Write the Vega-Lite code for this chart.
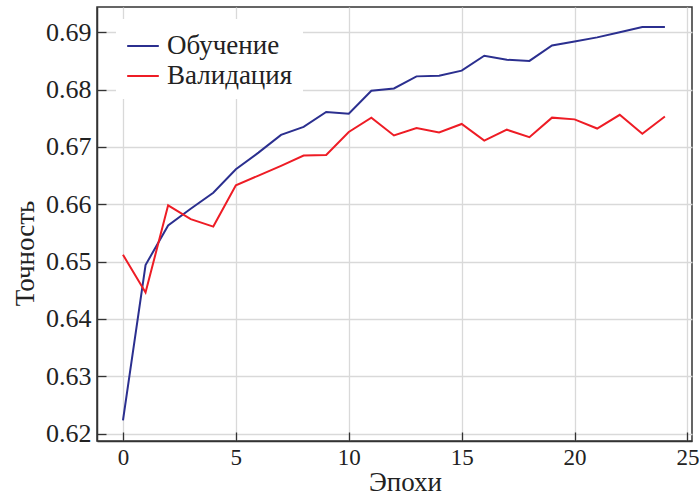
{
  "$schema": "https://vega.github.io/schema/vega-lite/v6.json",
  "width": 595,
  "height": 434,
  "autosize": {"type": "none"},
  "padding": {"left": 97, "top": 7, "right": 7, "bottom": 56},
  "background": "white",
  "config": {
    "font": "Liberation Serif",
    "view": {"stroke": "#333333", "strokeWidth": 1.5},
    "axis": {
      "labelFont": "Liberation Serif",
      "titleFont": "Liberation Serif",
      "titleFontSize": 27,
      "labelColor": "#222222",
      "titleColor": "#222222",
      "titleFontWeight": "normal",
      "gridColor": "#d9d9d9",
      "gridWidth": 1.3,
      "domainColor": "#333333",
      "domainWidth": 1.5,
      "tickColor": "#333333",
      "tickWidth": 1.3
    }
  },
  "data": {
    "values": [
      {"epoch": 0, "acc": 0.6223, "set": "Обучение"},
      {"epoch": 1, "acc": 0.6494, "set": "Обучение"},
      {"epoch": 2, "acc": 0.6563, "set": "Обучение"},
      {"epoch": 3, "acc": 0.6592, "set": "Обучение"},
      {"epoch": 4, "acc": 0.6620, "set": "Обучение"},
      {"epoch": 5, "acc": 0.6661, "set": "Обучение"},
      {"epoch": 6, "acc": 0.6690, "set": "Обучение"},
      {"epoch": 7, "acc": 0.6721, "set": "Обучение"},
      {"epoch": 8, "acc": 0.6735, "set": "Обучение"},
      {"epoch": 9, "acc": 0.6761, "set": "Обучение"},
      {"epoch": 10, "acc": 0.6758, "set": "Обучение"},
      {"epoch": 11, "acc": 0.6798, "set": "Обучение"},
      {"epoch": 12, "acc": 0.6802, "set": "Обучение"},
      {"epoch": 13, "acc": 0.6823, "set": "Обучение"},
      {"epoch": 14, "acc": 0.6824, "set": "Обучение"},
      {"epoch": 15, "acc": 0.6833, "set": "Обучение"},
      {"epoch": 16, "acc": 0.6859, "set": "Обучение"},
      {"epoch": 17, "acc": 0.6852, "set": "Обучение"},
      {"epoch": 18, "acc": 0.6850, "set": "Обучение"},
      {"epoch": 19, "acc": 0.6877, "set": "Обучение"},
      {"epoch": 20, "acc": 0.6884, "set": "Обучение"},
      {"epoch": 21, "acc": 0.6891, "set": "Обучение"},
      {"epoch": 22, "acc": 0.6900, "set": "Обучение"},
      {"epoch": 23, "acc": 0.6909, "set": "Обучение"},
      {"epoch": 24, "acc": 0.6909, "set": "Обучение"},
      {"epoch": 0, "acc": 0.6512, "set": "Валидация"},
      {"epoch": 1, "acc": 0.6446, "set": "Валидация"},
      {"epoch": 2, "acc": 0.6598, "set": "Валидация"},
      {"epoch": 3, "acc": 0.6574, "set": "Валидация"},
      {"epoch": 4, "acc": 0.6561, "set": "Валидация"},
      {"epoch": 5, "acc": 0.6633, "set": "Валидация"},
      {"epoch": 6, "acc": 0.6650, "set": "Валидация"},
      {"epoch": 7, "acc": 0.6667, "set": "Валидация"},
      {"epoch": 8, "acc": 0.6685, "set": "Валидация"},
      {"epoch": 9, "acc": 0.6686, "set": "Валидация"},
      {"epoch": 10, "acc": 0.6726, "set": "Валидация"},
      {"epoch": 11, "acc": 0.6751, "set": "Валидация"},
      {"epoch": 12, "acc": 0.6720, "set": "Валидация"},
      {"epoch": 13, "acc": 0.6733, "set": "Валидация"},
      {"epoch": 14, "acc": 0.6725, "set": "Валидация"},
      {"epoch": 15, "acc": 0.6740, "set": "Валидация"},
      {"epoch": 16, "acc": 0.6711, "set": "Валидация"},
      {"epoch": 17, "acc": 0.6730, "set": "Валидация"},
      {"epoch": 18, "acc": 0.6717, "set": "Валидация"},
      {"epoch": 19, "acc": 0.6751, "set": "Валидация"},
      {"epoch": 20, "acc": 0.6748, "set": "Валидация"},
      {"epoch": 21, "acc": 0.6732, "set": "Валидация"},
      {"epoch": 22, "acc": 0.6756, "set": "Валидация"},
      {"epoch": 23, "acc": 0.6723, "set": "Валидация"},
      {"epoch": 24, "acc": 0.6753, "set": "Валидация"}
    ]
  },
  "mark": {"type": "line", "strokeWidth": 2, "clip": true},
  "encoding": {
    "x": {
      "field": "epoch",
      "type": "quantitative",
      "scale": {"domain": [-1.15, 25.2], "nice": false, "zero": false},
      "axis": {
        "title": "Эпохи",
        "values": [0, 5, 10, 15, 20, 25],
        "format": "d",
        "labelFontSize": 23,
        "tickSize": -9,
        "labelPadding": 14,
        "titleX": 308,
        "titleY": 49,
        "titleAlign": "center",
        "titleBaseline": "alphabetic"
      }
    },
    "y": {
      "field": "acc",
      "type": "quantitative",
      "scale": {"domain": [0.6187, 0.6944], "nice": false, "zero": false},
      "axis": {
        "title": "Точность",
        "values": [0.62, 0.63, 0.64, 0.65, 0.66, 0.67, 0.68, 0.69],
        "format": ".2f",
        "labelFontSize": 26,
        "tickSize": -9,
        "labelPadding": 15,
        "titleX": -64,
        "titleY": 246,
        "titleAlign": "center",
        "titleBaseline": "alphabetic"
      }
    },
    "color": {
      "field": "set",
      "type": "nominal",
      "sort": ["Обучение", "Валидация"],
      "scale": {"domain": ["Обучение", "Валидация"], "range": ["#2b2f8f", "#ee1c25"]},
      "legend": {
        "title": null,
        "orient": "none",
        "legendX": 19,
        "legendY": 12,
        "fillColor": "white",
        "padding": 10,
        "symbolType": "stroke",
        "symbolSize": 1000,
        "symbolStrokeWidth": 2,
        "labelFont": "Liberation Serif",
        "labelFontSize": 27,
        "labelColor": "#222222",
        "rowPadding": -5,
        "labelOffset": 7,
        "symbolOffset": 0
      }
    }
  }
}
